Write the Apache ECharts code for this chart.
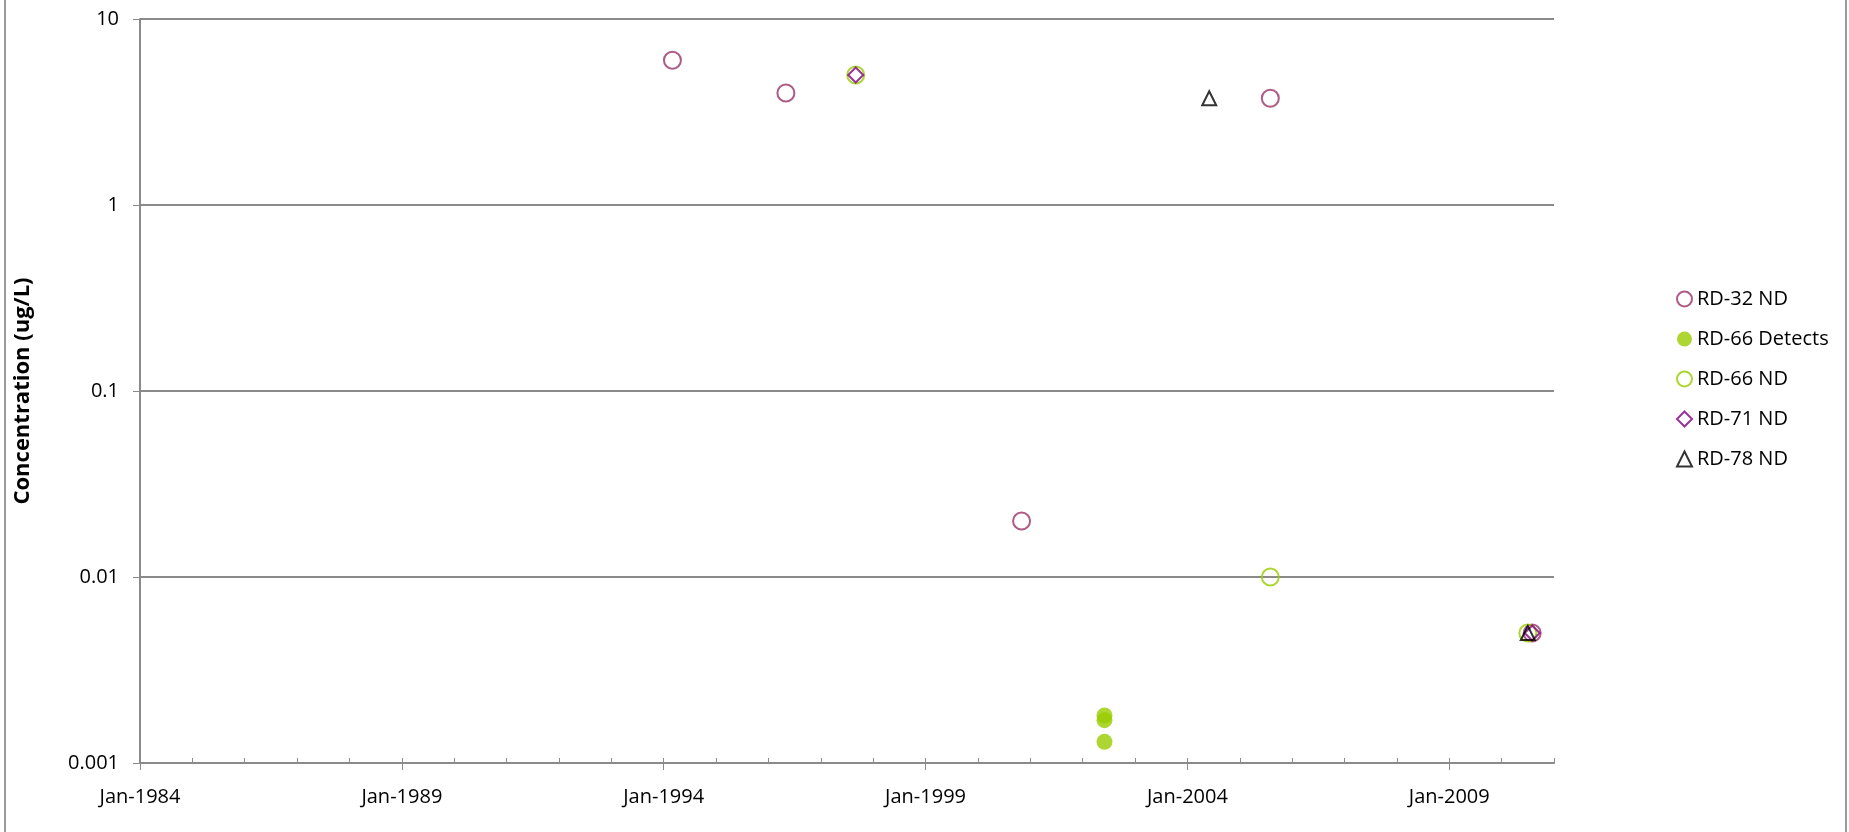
<!DOCTYPE html>
<html>
<head>
<meta charset="utf-8">
<script src="https://cdn.jsdelivr.net/npm/echarts@6/dist/echarts.min.js"></script>
<style>
  html, body { margin: 0; padding: 0; background: #fff; }
  #chart { width: 1849px; height: 832px; }
</style>
</head>
<body>
<div id="chart"></div>
<script>
// sample dates (YYYY-MM) and concentrations in ug/L
var rd32Dates = ['1994-03', '1996-05', '2000-11', '2005-08', '2010-08'];
var rd32Values = [6, 4, 0.02, 3.75, 0.005];

var rd66DetDates = ['2002-06', '2002-06', '2002-06'];
var rd66DetValues = [0.0018, 0.0017, 0.0013];

var rd66NdDates = ['1997-09', '2005-08', '2010-07'];
var rd66NdValues = [5, 0.01, 0.005];

var rd71NdDates = ['1997-09', '2010-08'];
var rd71NdValues = [5, 0.005];

var rd78NdDates = ['2004-06', '2010-07'];
var rd78NdValues = [3.75, 0.005];

var yearMin = 1984, yearMax = 2011;
var yTicks = [0.001, 0.01, 0.1, 1, 10];

var FONT = 'Open Sans';
var GRID_COLOR = '#8a8a8a';

function toYear(d) {
    var p = d.split('-');
    return +p[0] + (+p[1] - 1) / 12;
}

function pts(dates, values) {
    return dates.map(function (d, i) { return [toYear(d), values[i]]; });
}

var dom = document.getElementById('chart');
var myChart = echarts.init(dom, null, { renderer: 'canvas' });

var grid = { left: 140, right: 295, top: 19, bottom: 69 };

var option = {
    animation: false,
    backgroundColor: '#fff',
    textStyle: { fontFamily: FONT },
    grid: grid,
    legend: {
        orient: 'vertical',
        left: 1671,
        top: 284,
        itemGap: 20,
        itemWidth: 15,
        itemHeight: 15,
        textStyle: { fontFamily: FONT, fontSize: 20, color: '#000', padding: [0, 0, 0, 0] },
        data: ['RD-32 ND', 'RD-66 Detects', 'RD-66 ND', 'RD-71 ND', 'RD-78 ND']
    },
    xAxis: [
        {
            type: 'value',
            min: yearMin,
            max: yearMax,
            interval: 5,
            axisLine: { show: true, onZero: false, lineStyle: { color: GRID_COLOR, width: 2 } },
            axisTick: { show: true, length: 7, lineStyle: { color: GRID_COLOR } },
            minorTick: { show: false },
            splitLine: { show: false },
            axisLabel: {
                margin: 24,
                fontSize: 20,
                color: '#000',
                fontFamily: FONT,
                showMaxLabel: false,
                formatter: function (v) {
                    return (v - yearMin) % 5 === 0 && v < yearMax ? 'Jan-' + v : '';
                }
            }
        },
        {
            // yearly minor ticks pointing inward
            type: 'value',
            min: yearMin,
            max: yearMax,
            interval: 1,
            position: 'bottom',
            axisLine: { show: false, onZero: false },
            axisTick: { show: true, inside: true, length: 5, lineStyle: { color: GRID_COLOR } },
            axisLabel: { show: false },
            splitLine: { show: false }
        }
    ],
    yAxis: {
        type: 'log',
        logBase: 10,
        min: 0.001,
        max: 10,
        name: 'Concentration (ug/L)',
        nameLocation: 'middle',
        nameRotate: 90,
        nameGap: 106,
        nameTextStyle: { fontFamily: FONT, fontSize: 22, fontWeight: 'bold', color: '#000' },
        axisLine: { show: true, lineStyle: { color: GRID_COLOR, width: 2 } },
        axisTick: { show: true, length: 7, lineStyle: { color: GRID_COLOR } },
        splitLine: { show: true, lineStyle: { color: GRID_COLOR, width: 2 } },
        axisLabel: {
            margin: 21,
            fontSize: 20,
            color: '#000',
            fontFamily: FONT,
            formatter: function (v) {
                var best = yTicks.reduce(function (a, b) {
                    return Math.abs(Math.log10(b) - Math.log10(v)) < Math.abs(Math.log10(a) - Math.log10(v)) ? b : a;
                });
                return String(best);
            }
        }
    },
    graphic: [
        {
            type: 'rect',
            silent: true,
            shape: { x: 5, y: -5, width: 1841, height: 845 },
            style: { fill: 'none', stroke: '#9a9a9a', lineWidth: 2 }
        }
    ],
    series: [
        {
            name: 'RD-32 ND',
            type: 'scatter',
            symbol: 'circle',
            symbolSize: 17,
            itemStyle: { color: 'rgba(255,255,255,0)', borderColor: '#993366', borderWidth: 2 },
            data: pts(rd32Dates, rd32Values)
        },
        {
            name: 'RD-66 Detects',
            type: 'scatter',
            symbol: 'circle',
            symbolSize: 16,
            itemStyle: { color: '#99CC00', borderColor: '#99CC00', borderWidth: 0 },
            data: pts(rd66DetDates, rd66DetValues)
        },
        {
            name: 'RD-66 ND',
            type: 'scatter',
            symbol: 'circle',
            symbolSize: 17,
            itemStyle: { color: 'rgba(255,255,255,0)', borderColor: '#99CC00', borderWidth: 2 },
            data: pts(rd66NdDates, rd66NdValues)
        },
        {
            name: 'RD-71 ND',
            type: 'scatter',
            symbol: 'diamond',
            symbolSize: 15,
            itemStyle: { color: 'rgba(255,255,255,0)', borderColor: '#800080', borderWidth: 2 },
            data: pts(rd71NdDates, rd71NdValues)
        },
        {
            name: 'RD-78 ND',
            type: 'scatter',
            symbol: 'triangle',
            symbolSize: 14,
            itemStyle: { color: 'rgba(255,255,255,0)', borderColor: '#000000', borderWidth: 2 },
            data: pts(rd78NdDates, rd78NdValues)
        }
    ]
};

myChart.setOption(option);
</script>
</body>
</html>
